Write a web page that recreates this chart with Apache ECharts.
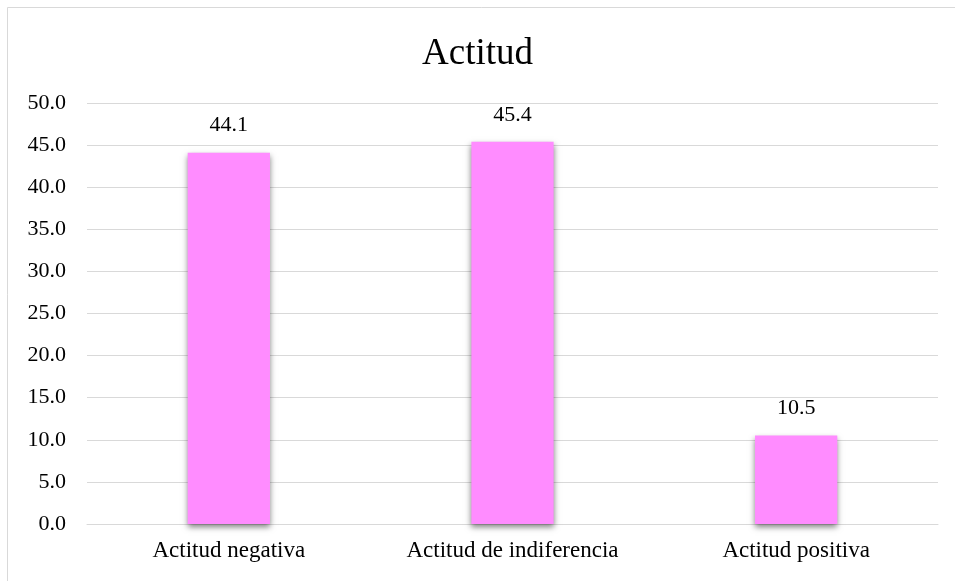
<!DOCTYPE html>
<html>
<head>
<meta charset="UTF-8" />
<script type="text/javascript" src="https://cdn.jsdelivr.net/npm/echarts@6/dist/echarts.min.js"></script>
<title>Actitud</title>
<style>
	html, body { margin: 0; padding: 0; background: #fff; }
	#main { width: 955px; height: 581px; }
</style>
</head>
<body>
	<div id="main"></div>
<script type="text/javascript">
	// datos del grafico
	var categorias = ['Actitud negativa', 'Actitud de indiferencia', 'Actitud positiva']
	var valores = [44.1, 45.4, 10.5]
	var yMin = 0, yMax = 50, yPaso = 5

	var fuente = '"Liberation Serif", "Times New Roman", serif'

	var myChart = echarts.init(document.getElementById('main'))

	var option = {
		backgroundColor : '#ffffff',
		animation : false,
		title : {
			text : 'Actitud',
			left : 'center',
			top : 31,
			textStyle : {
				fontFamily : fuente,
				fontSize : 37,
				fontWeight : 'normal',
				color : '#000'
			}
		},
		graphic : [ {
			type : 'rect',
			shape : { x : 7.5, y : 7.5, width : 1000, height : 700 },
			style : { fill : 'none', stroke : '#d9d9d9', lineWidth : 1 },
			silent : true
		} ],
		grid : {
			left : 87,
			right : 17,
			top : 103,
			bottom : 57
		},
		xAxis : [ {
			type : 'category',
			data : categorias,
			axisLine : { lineStyle : { color : '#d9d9d9', width : 1 } },
			axisTick : { show : false },
			axisLabel : {
				fontFamily : fuente,
				fontSize : 23,
				color : '#000',
				margin : 15
			}
		} ],
		yAxis : [ {
			type : 'value',
			min : yMin,
			max : yMax,
			interval : yPaso,
			axisLine : { show : false },
			axisTick : { show : false },
			splitLine : { lineStyle : { color : '#d9d9d9', width : 1 } },
			axisLabel : {
				fontFamily : fuente,
				fontSize : 22,
				color : '#000',
				margin : 21,
				formatter : function(v) { return v.toFixed(1) }
			}
		} ],
		series : [ {
			type : 'bar',
			data : valores,
			barWidth : '29%',
			itemStyle : {
				color : '#ff8cff',
				shadowColor : 'rgba(0,0,0,0.5)',
				shadowBlur : 6,
				shadowOffsetY : 3
			},
			label : {
				show : true,
				position : 'top',
				distance : 16,
				fontFamily : fuente,
				fontSize : 22,
				color : '#000',
				formatter : function(p) { return p.value.toFixed(1) }
			}
		} ]
	}

	myChart.setOption(option)
</script>
</body>
</html>
